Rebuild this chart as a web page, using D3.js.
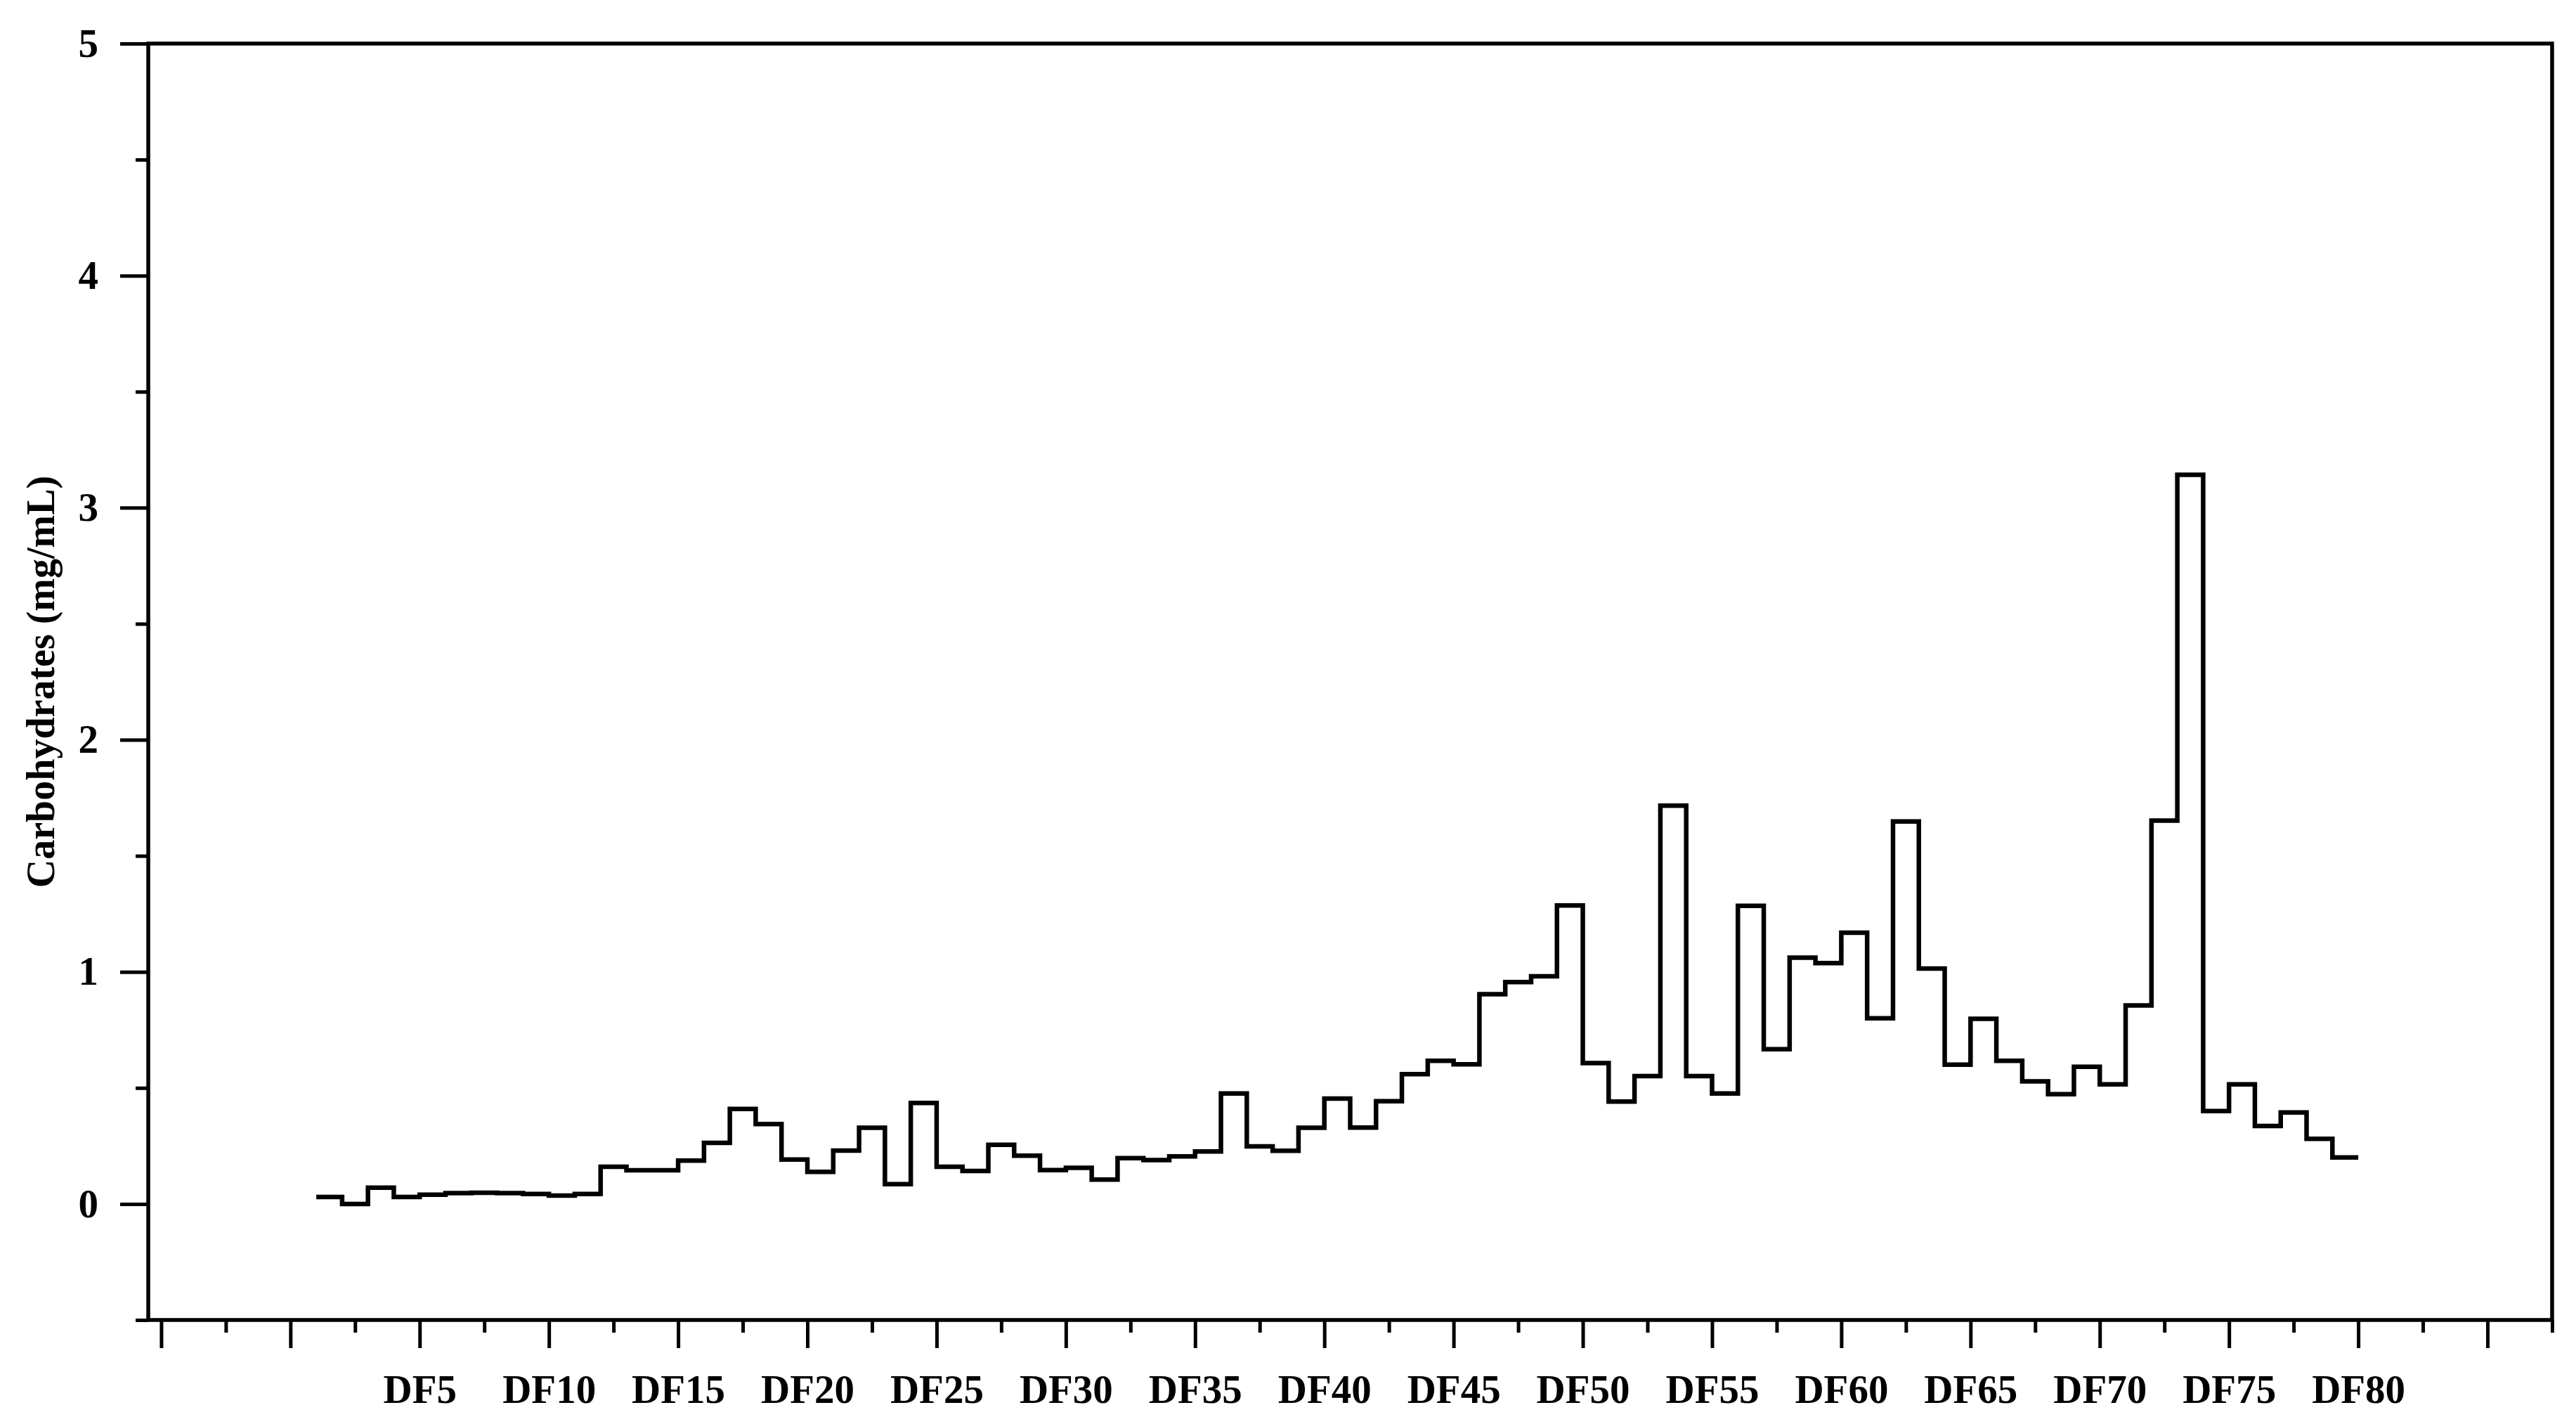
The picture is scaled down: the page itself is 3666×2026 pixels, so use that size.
<!DOCTYPE html>
<html>
<head>
<meta charset="utf-8">
<script src="https://cdn.jsdelivr.net/npm/d3@7"></script>
<style>
  body { margin: 0; background: #fff; }
  text { font-family: "Liberation Serif", "Times New Roman", serif; font-weight: bold; }
</style>
</head>
<body>
<div id="chart"></div>
<script>
// fraction numbers DF1..DF80
var fractions = d3.range(1, 81);
var carbs = [
  0.030, 0.000, 0.070, 0.030, 0.040, 0.047, 0.048, 0.047, 0.043, 0.036,
  0.043, 0.160, 0.145, 0.145, 0.187, 0.263, 0.409, 0.344, 0.191, 0.138,
  0.230, 0.328, 0.085, 0.435, 0.160, 0.142, 0.255, 0.208, 0.146, 0.156,
  0.105, 0.197, 0.189, 0.205, 0.226, 0.476, 0.248, 0.229, 0.328, 0.454,
  0.329, 0.443, 0.559, 0.617, 0.602, 0.904, 0.956, 0.981, 1.286, 0.607,
  0.441, 0.551, 1.716, 0.551, 0.476, 1.285, 0.667, 1.061, 1.038, 1.169,
  0.800, 1.648, 1.014, 0.600, 0.798, 0.617, 0.528, 0.473, 0.591, 0.515,
  0.855, 1.652, 3.142, 0.400, 0.515, 0.336, 0.394, 0.281, 0.200, 0.200
];
var xMajor = d3.range(-5, 90, 5);
var xMinor = d3.range(-2.5, 90, 5);
var xLabels = d3.range(5, 85, 5);
var yMajor = [0, 1, 2, 3, 4, 5];
var yMinor = [-0.5, 0.5, 1.5, 2.5, 3.5, 4.5];
var yTitle = "Carbohydrates (mg/mL)";

var margin = {top: 62, right: 34, bottom: 148, left: 211},
    width = 3666 - margin.left - margin.right,
    height = 2026 - margin.top - margin.bottom;

var svg = d3.select("#chart")
    .append("svg")
    .attr("width", 3666)
    .attr("height", 2026);
var g = svg.append("g")
    .attr("transform", "translate(" + margin.left + "," + margin.top + ")");

var x = d3.scaleLinear().domain([-5.5, 87.5]).range([0, width]);
var y = d3.scaleLinear().domain([-0.5, 5]).range([height, 0]);

// minor ticks
g.append("g")
    .attr("class", "axis")
    .attr("transform", "translate(0," + height + ")")
    .call(d3.axisBottom(x).tickValues(xMinor).tickSize(18).tickSizeOuter(0).tickFormat(""));
g.append("g")
    .attr("class", "axis")
    .call(d3.axisLeft(y).tickValues(yMinor).tickSize(18).tickSizeOuter(0).tickFormat(""));

// major ticks
g.append("g")
    .attr("class", "axis xmaj")
    .attr("transform", "translate(0," + height + ")")
    .call(d3.axisBottom(x).tickValues(xMajor).tickSize(40).tickSizeOuter(0).tickPadding(38)
        .tickFormat(function(d) { return xLabels.indexOf(d) >= 0 ? "DF" + d : ""; }));
g.append("g")
    .attr("class", "axis ymaj")
    .call(d3.axisLeft(y).tickValues(yMajor).tickSize(40).tickSizeOuter(0).tickPadding(31)
        .tickFormat(d3.format("d")));

g.selectAll(".axis path.domain").remove();
g.selectAll(".axis line").attr("stroke", "#000").attr("stroke-width", 5);
g.selectAll(".axis text")
    .attr("fill", "#000")
    .style("font-size", "57px")
    .style("font-family", "'Liberation Serif', serif")
    .style("font-weight", "bold");

// frame
g.append("rect")
    .attr("x", 0).attr("y", 0)
    .attr("width", width).attr("height", height)
    .attr("fill", "none")
    .attr("stroke", "#000")
    .attr("stroke-width", 5.5);

// step line
var line = d3.line()
    .x(function(d, i) { return x(fractions[i]); })
    .y(function(d) { return y(d); })
    .curve(d3.curveStepAfter);

g.append("path")
    .datum(carbs)
    .attr("fill", "none")
    .attr("stroke", "#000")
    .attr("stroke-width", 6.5)
    .attr("stroke-linejoin", "miter")
    .attr("d", line);

// y title
svg.append("text")
    .attr("transform", "translate(77," + (margin.top + height / 2) + ") rotate(-90)")
    .attr("text-anchor", "middle")
    .style("font-size", "56px")
    .text(yTitle);
</script>
</body>
</html>
